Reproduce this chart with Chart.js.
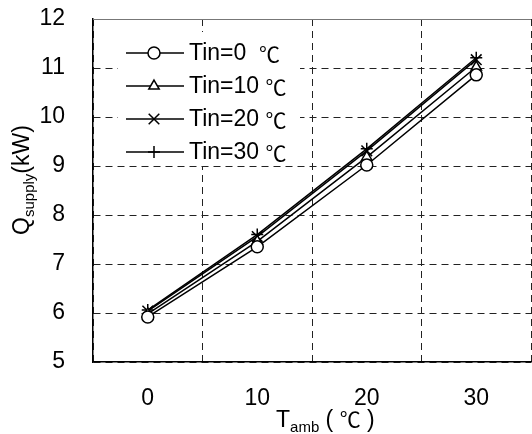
<!DOCTYPE html>
<html>
<head>
<meta charset="utf-8">
<script src="https://cdn.jsdelivr.net/npm/chart.js@4/dist/chart.umd.min.js"></script>
<style>
  body { margin: 0; overflow: hidden; background: #fff; }
  canvas { display: block; }
</style>
</head>
<body>
<canvas id="qChart" width="540" height="434"></canvas>
<script>
// data
const tambLabels = ["0", "10", "20", "30"];
const seriesNames = ["Tin=0  \u2103", "Tin=10 \u2103", "Tin=20 \u2103", "Tin=30 \u2103"];
const tin0 = [5.92, 7.35, 9.02, 10.86];
const tin10 = [5.98, 7.46, 9.18, 11.02];
const tin20 = [6.04, 7.56, 9.31, 11.17];
const tin30 = [6.06, 7.60, 9.35, 11.21];
const yTicks = [5, 6, 7, 8, 9, 10, 11, 12];

const markerStyles = ["circle", "triangle", "crossRot", "cross"];
const FONT = "'Liberation Sans', Arial, sans-serif";
const CJK = "'Noto Sans CJK SC', 'Noto Sans CJK JP', sans-serif";
const FS = 23;

function markerSize(style) {
  return style === "crossRot" ? 7.5 : 6;
}

function makeSet(name, vals, style) {
  return {
    label: name,
    data: vals,
    borderColor: "#000",
    borderWidth: 1.5,
    pointStyle: style,
    pointRadius: markerSize(style),
    pointBorderWidth: 1.5,
    pointBackgroundColor: "#fff",
    pointBorderColor: "#000",
    tension: 0
  };
}

// draws text, switching to the CJK font for the ℃ sign
function mixedText(ctx, str, x, y, size) {
  const bits = str.split("\u2103");
  bits.forEach(function (b, i) {
    ctx.font = size + "px " + FONT;
    ctx.fillText(b, x, y);
    x += ctx.measureText(b).width;
    if (i < bits.length - 1) {
      ctx.font = (size - 2) + "px " + CJK;
      ctx.fillText("\u2103", x, y);
      x += ctx.measureText("\u2103").width;
    }
  });
  return x;
}

// legend inside the plot + axis titles with subscripts
const extras = {
  id: "extras",
  beforeDatasetsDraw(chart) {
    const ctx = chart.ctx;
    ctx.save();
    // white legend box hides the grid behind it
    ctx.fillStyle = "#fff";
    ctx.fillRect(118, 32, 182, 134);
    ctx.restore();
  },
  afterDraw(chart) {
    const ctx = chart.ctx;
    const area = chart.chartArea;
    ctx.save();

    // top border (solid grey)
    ctx.strokeStyle = "#777";
    ctx.lineWidth = 1;
    ctx.setLineDash([]);
    ctx.beginPath();
    ctx.moveTo(area.left, area.top + 0.5);
    ctx.lineTo(area.right, area.top + 0.5);
    ctx.stroke();

    // legend
    chart.data.datasets.forEach(function (ds, i) {
      const y = 53 + i * 33;
      ctx.strokeStyle = "#000";
      ctx.lineWidth = 1.5;
      ctx.beginPath();
      ctx.moveTo(126, y);
      ctx.lineTo(184, y);
      ctx.stroke();
      ctx.fillStyle = "#fff";
      Chart.helpers.drawPoint(ctx, { pointStyle: ds.pointStyle, radius: markerSize(ds.pointStyle), rotation: 0, borderWidth: 1.5 }, 154, y);
      ctx.fillStyle = "#000";
      ctx.textBaseline = "middle";
      ctx.textAlign = "left";
      mixedText(ctx, ds.label, 189, y + 1, FS);
    });

    // x title: T_amb (℃)
    ctx.fillStyle = "#000";
    ctx.textBaseline = "alphabetic";
    ctx.textAlign = "left";
    let x = 276;
    const base = 427;
    ctx.font = FS + "px " + FONT;
    ctx.fillText("T", x, base);
    x += ctx.measureText("T").width;
    ctx.font = "15px " + FONT;
    ctx.fillText("amb", x, base + 5);
    x += ctx.measureText("amb").width;
    mixedText(ctx, " ( \u2103 )", x, base, FS);

    // y title: Q_supply(kW)
    ctx.translate(29, 180);
    ctx.rotate(-Math.PI / 2);
    const parts = [["Q", FS, 0], ["supply", 15, 5], ["(kW)", FS, 0]];
    let total = 0;
    parts.forEach(function (p) {
      ctx.font = p[1] + "px " + FONT;
      total += ctx.measureText(p[0]).width;
    });
    let px = -total / 2;
    parts.forEach(function (p) {
      ctx.font = p[1] + "px " + FONT;
      ctx.fillText(p[0], px, p[2]);
      px += ctx.measureText(p[0]).width;
    });
    ctx.restore();
  }
};

const ctx = document.getElementById("qChart").getContext("2d");
new Chart(ctx, {
  type: "line",
  data: {
    labels: tambLabels,
    datasets: [
      makeSet(seriesNames[0], tin0, markerStyles[0]),
      makeSet(seriesNames[1], tin10, markerStyles[1]),
      makeSet(seriesNames[2], tin20, markerStyles[2]),
      makeSet(seriesNames[3], tin30, markerStyles[3])
    ]
  },
  options: {
    responsive: false,
    animation: false,
    layout: { padding: { top: 19, right: 4, left: 0, bottom: 0 } },
    plugins: {
      legend: { display: false },
      tooltip: { enabled: false }
    },
    scales: {
      x: {
        type: "category",
        offset: true,
        grid: { offset: true, color: "#222", lineWidth: 1, drawTicks: false },
        border: { display: true, color: "#000", width: 1.5, dash: [7, 5] },
        ticks: { color: "#000", font: { family: FONT, size: FS }, padding: 23, maxRotation: 0 },
        afterFit(scale) {
          scale.height = 72;
          scale.paddingLeft = 0;
          scale.paddingRight = 0;
        }
      },
      y: {
        min: yTicks[0],
        max: yTicks[yTicks.length - 1],
        afterBuildTicks(scale) { scale.ticks = yTicks.map(v => ({ value: v })); },
        grid: { color: "#222", lineWidth: 1, drawTicks: false },
        border: { display: true, color: "#000", width: 1.5, dash: [7, 5] },
        ticks: { color: "#000", font: { family: FONT, size: FS }, padding: 28 },
        afterFit(scale) {
          scale.width = 93;
          scale.paddingTop = 0;
          scale.paddingBottom = 0;
        }
      }
    }
  },
  plugins: [extras]
});
</script>
</body>
</html>
